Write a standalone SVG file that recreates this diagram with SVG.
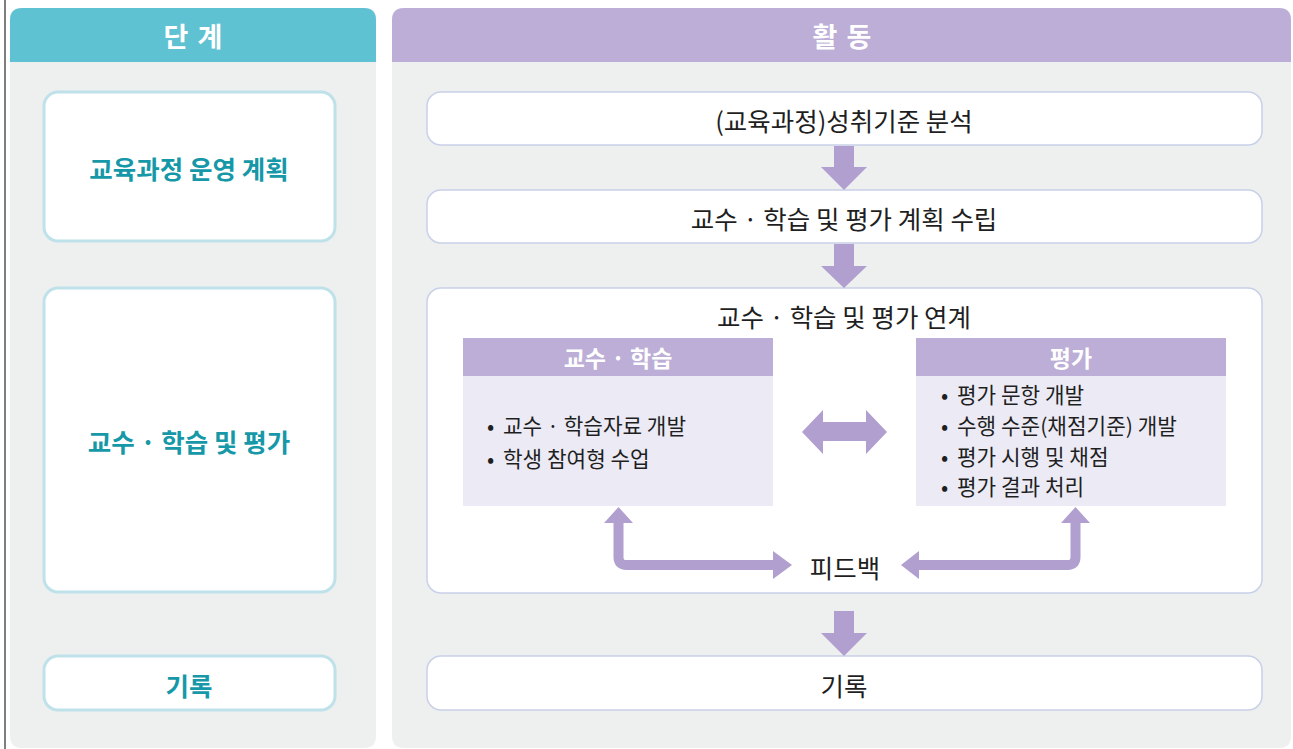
<svg xmlns="http://www.w3.org/2000/svg" width="1293" height="749" viewBox="0 0 1293 749">
<style>
.panel{fill:#eeefef}
.stage{fill:#ffffff;stroke:#bfe2ea;stroke-width:3}
.act{fill:#ffffff;stroke:#c9d1e9;stroke-width:1.5}
.hd{font-family:"Noto Sans CJK KR","Noto Sans",sans-serif;font-weight:700;font-size:27px;fill:#ffffff;text-anchor:middle;dominant-baseline:central;word-spacing:3px}
.st{font-family:"Noto Sans CJK KR","Noto Sans",sans-serif;font-weight:700;font-size:25.5px;fill:#1698a8;text-anchor:middle;dominant-baseline:central}
.tx{font-family:"Noto Sans CJK KR","Noto Sans",sans-serif;font-size:25.5px;fill:#1f1f1f;text-anchor:middle;dominant-baseline:central}
.ih{font-family:"Noto Sans CJK KR","Noto Sans",sans-serif;font-weight:700;font-size:23px;fill:#ffffff;text-anchor:middle;dominant-baseline:central}
.bl{font-family:"Noto Sans CJK KR","Noto Sans",sans-serif;font-size:21.3px;fill:#1f1f1f;dominant-baseline:central}
.arr{fill:#b09fcf}
.fb{fill:none;stroke:#b09fcf;stroke-width:10;stroke-linejoin:round}
</style>
<rect width="1293" height="749" fill="#ffffff"/>
<line x1="5" y1="0" x2="5" y2="749" stroke="#555" stroke-width="1.5"/>

<g id="stage-column">
<path class="panel" d="M10 20 Q10 8 22 8 L364 8 Q376 8 376 20 L376 736 Q376 748 364 748 L22 748 Q10 748 10 736 Z"/>
<path d="M10 20 Q10 8 22 8 L364 8 Q376 8 376 20 L376 62 L10 62 Z" fill="#5fc2d2"/>
<text class="hd" x="193" y="35">단 계</text>
</g>
<g id="activity-column">
<path class="panel" d="M392 20 Q392 8 404 8 L1279 8 Q1291 8 1291 20 L1291 736 Q1291 748 1279 748 L404 748 Q392 748 392 736 Z"/>
<path d="M392 20 Q392 8 404 8 L1279 8 Q1291 8 1291 20 L1291 62 L392 62 Z" fill="#bcaed6"/>
<text class="hd" x="842" y="35">활 동</text>
</g>

<g id="stage-plan">
<rect class="stage" x="44" y="92" width="291" height="149" rx="14"/>
<text class="st" x="189" y="167">교육과정 운영 계획</text>
</g>
<g id="stage-teach">
<rect class="stage" x="44" y="288" width="291" height="304" rx="14"/>
<text class="st" x="189" y="440">교수 · 학습 및 평가</text>
</g>
<g id="stage-record">
<rect class="stage" x="44" y="656" width="291" height="54" rx="14"/>
<text class="st" x="189" y="684">기록</text>
</g>

<g id="act-analysis">
<rect class="act" x="427" y="92" width="835" height="53" rx="14"/>
<text class="tx" x="844" y="119">(교육과정)성취기준 분석</text>
</g>
<g id="act-plan">
<rect class="act" x="427" y="190" width="835" height="53" rx="14"/>
<text class="tx" x="844" y="217">교수 · 학습 및 평가 계획 수립</text>
</g>
<g id="act-link">
<rect class="act" x="427" y="288" width="835" height="305" rx="14"/>
<text class="tx" x="844" y="315">교수 · 학습 및 평가 연계</text>
</g>
<g id="box-teach">
<rect x="463" y="338" width="310" height="168" fill="#ecebf5"/>
<rect x="463" y="338" width="310" height="38" fill="#bcaed6"/>
<text class="ih" x="618" y="357">교수 · 학습</text>
<text class="bl" x="487" y="424">•<tspan dx="4"> 교수 · 학습자료 개발</tspan></text>
<text class="bl" x="487" y="457">•<tspan dx="4"> 학생 참여형 수업</tspan></text>
</g>
<g id="box-eval">
<rect x="916" y="338" width="310" height="168" fill="#ecebf5"/>
<rect x="916" y="338" width="310" height="38" fill="#bcaed6"/>
<text class="ih" x="1071" y="357">평가</text>
<text class="bl" x="941" y="393">•<tspan dx="4"> 평가 문항 개발</tspan></text>
<text class="bl" x="941" y="424">•<tspan dx="4"> 수행 수준(채점기준) 개발</tspan></text>
<text class="bl" x="941" y="455">•<tspan dx="4"> 평가 시행 및 채점</tspan></text>
<text class="bl" x="941" y="485">•<tspan dx="4"> 평가 결과 처리</tspan></text>
</g>
<g id="feedback">
<text class="tx" x="845" y="566">피드백</text>
</g>
<g id="act-record">
<rect class="act" x="427" y="656" width="835" height="54" rx="14"/>
<text class="tx" x="844" y="684">기록</text>
</g>

<g id="connectors">
<path class="arr" d="M834 146 L854 146 L854 167 L867 167 L844 190 L821 167 L834 167 Z"/>
<path class="arr" d="M834 244 L854 244 L854 266 L867 266 L844 288 L821 266 L834 266 Z"/>
<path class="arr" d="M834 611 L854 611 L854 633 L867 633 L844 656 L821 633 L834 633 Z"/>
<path class="arr" d="M802 432 L823 410 L823 422 L866 422 L866 410 L887 432 L866 454 L866 441 L823 441 L823 454 Z"/>
<path class="fb" d="M618.5 520 L618.5 557 Q618.5 565 626.5 565 L775 565"/>
<path class="arr" d="M618.5 507 L633 523 L604 523 Z"/>
<path class="arr" d="M792 565 L773 551 L773 579 Z"/>
<path class="fb" d="M1075.5 520 L1075.5 557 Q1075.5 565 1067.5 565 L917 565"/>
<path class="arr" d="M1075.5 507 L1090 523 L1061 523 Z"/>
<path class="arr" d="M901 565 L919 551 L919 579 Z"/>
</g>
</svg>
